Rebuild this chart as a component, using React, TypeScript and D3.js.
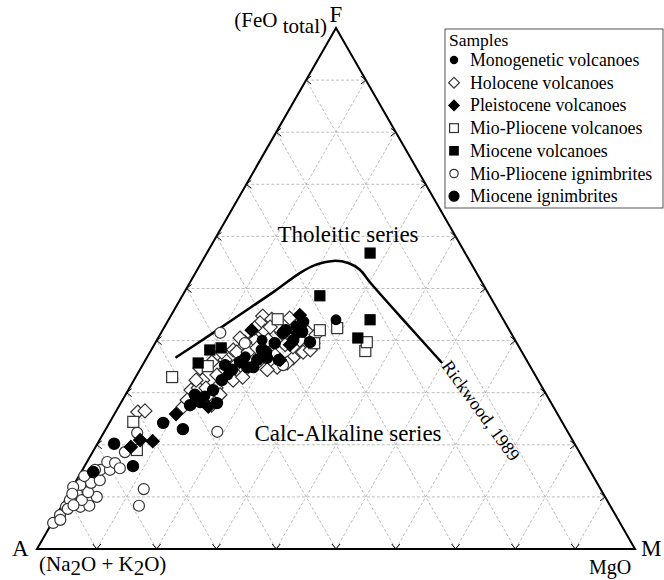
import React from 'react';
import * as d3 from 'd3';

// Ternary AFM data: each point is [F (FeO total), M (MgO)] in %, A = 100 - F - M
const monogenetic: [number, number][] = [
  [44.0, 28.0], [40.1, 17.6], [33.4, 15.2], [36.9, 16.4], [29.4, 13.4], [42.8, 21.9],
];
const holocene: [number, number][] = [
  [26.3, 3.7], [26.5, 4.8], [27.3, 10.8], [30.5, 10.5], [29.2, 11.5], [32.4, 11.5], [27.6, 15.4],
  [29.2, 13.8], [33.4, 13.4], [34.4, 14.3], [36.9, 13.8], [38.2, 13.7], [38.2, 14.9], [39.5, 15.9],
  [36.9, 15.9], [34.4, 17.6], [37.8, 14.5], [32.4, 16.6], [33.0, 17.9], [44.7, 15.4], [44.1, 17.2],
  [43.4, 15.6], [41.8, 17.2], [41.5, 20.2], [44.3, 20.1], [41.7, 24.3], [39.5, 26.4], [36.7, 24.5],
  [34.9, 22.7], [38.8, 23.4], [37.8, 25.6], [35.7, 24.0], [34.4, 21.3], [40.1, 16.4], [39.7, 14.9],
  [37.8, 16.4], [36.3, 13.3], [30.9, 14.5], [30.9, 11.5], [28.6, 10.8], [35.9, 19.0], [43.0, 22.1],
  [42.8, 18.6], [38.6, 17.5], [29.6, 15.8], [34.7, 9.9], [35.9, 11.3], [37.8, 12.0], [42.4, 15.2],
  [40.1, 18.6], [39.2, 21.9], [40.1, 23.9], [37.2, 21.2], [32.4, 10.4], [30.9, 12.8], [40.5, 13.7],
  [42.6, 17.7], [41.1, 26.1], [38.2, 26.6],
];
const pleistocene: [number, number][] = [
  [19.6, 5.9], [20.9, 6.8], [20.7, 9.0], [25.9, 10.3], [42.0, 14.9], [44.9, 21.5], [41.5, 22.8],
  [36.3, 22.5], [27.3, 15.0], [39.2, 22.7],
];
const mioPlioVolc: [number, number][] = [
  [33.0, 6.1], [24.4, 3.9], [19.0, 7.2], [42.0, 26.3], [42.4, 29.0], [39.5, 26.6], [38.0, 35.9],
  [39.7, 35.3], [44.1, 18.2], [35.1, 11.0],
];
const mioceneVolc: [number, number][] = [
  [56.8, 27.3], [48.6, 23.0], [44.0, 33.7], [40.5, 33.4], [38.2, 9.8], [38.6, 11.5], [35.7, 9.1],
];
const mioPlioIgn: [number, number][] = [
  [5.0, 0.2], [6.5, 0.6], [8.1, 0.8], [9.4, 0.8], [8.1, 3.2], [8.3, 4.6], [10.7, 1.3], [9.4, 2.8],
  [10.0, 5.0], [10.9, 3.1], [12.3, 1.1], [12.7, 2.7], [13.2, 3.9], [14.0, 0.9], [15.2, 3.0],
  [15.2, 4.6], [16.7, 3.4], [16.5, 4.8], [15.5, 6.1], [18.6, 5.4], [22.3, 5.6], [11.5, 12.1],
  [8.3, 12.9], [22.5, 18.9], [41.5, 9.9], [35.3, 23.5], [11.9, 0.1], [7.7, 1.3], [5.6, 1.1],
  [15.2, 2.1], [39.5, 15.0], [10.6, 0.6], [8.4, 1.9],
];
const mioceneIgn: [number, number][] = [
  [20.2, 2.8], [15.9, 8.1], [24.2, 9.0], [23.0, 12.9], [14.8, 2.0], [28.2, 13.2], [30.5, 14.2],
  [32.4, 14.7], [34.4, 15.4], [34.9, 17.7], [36.3, 18.7], [36.7, 20.1], [39.5, 20.0], [40.1, 22.8],
  [41.7, 23.5], [28.0, 16.1], [35.9, 16.0], [34.9, 18.7], [36.3, 22.3], [39.7, 25.8], [37.8, 19.4],
  [27.6, 11.8], [42.0, 20.6], [35.3, 13.8], [41.5, 20.4], [38.2, 18.5], [43.6, 22.7], [29.6, 11.6],
];
// Rickwood (1989) tholeiitic / calc-alkaline boundary, [F, M]
const rickwood: [number, number][] = [
  [36.7, 4.8], [41.1, 8.4], [46.3, 12.5], [49.5, 15.0], [53.0, 17.5], [54.5, 19.2], [55.3, 21.9],
  [54.9, 24.6], [53.6, 27.2], [51.1, 30.2], [43.4, 40.0], [35.7, 49.9],
];
const legendLabels = [
  'Monogenetic volcanoes', 'Holocene volcanoes', 'Pleistocene volcanoes', 'Mio-Pliocene volcanoes',
  'Miocene volcanoes', 'Mio-Pliocene ignimbrites', 'Miocene ignimbrites',
];
const gridSteps = [10, 20, 30, 40, 50, 60, 70, 80, 90];

type Shape = 'circle' | 'diamond' | 'square';
const seriesData = [monogenetic, holocene, pleistocene, mioPlioVolc, mioceneVolc, mioPlioIgn, mioceneIgn];
const seriesStyle: { shape: Shape; filled: boolean; size: number; lsize: number }[] = [
  { shape: 'circle', filled: true, size: 4.8, lsize: 3.6 },
  { shape: 'diamond', filled: false, size: 7, lsize: 5.4 },
  { shape: 'diamond', filled: true, size: 6.5, lsize: 5.2 },
  { shape: 'square', filled: false, size: 5.5, lsize: 4.4 },
  { shape: 'square', filled: true, size: 5, lsize: 4.2 },
  { shape: 'circle', filled: false, size: 5.5, lsize: 4.2 },
  { shape: 'circle', filled: true, size: 5.6, lsize: 5 },
];
const drawOrder = [1, 3, 5, 2, 4, 6, 0];

const FONT = '"Liberation Serif", "Times New Roman", serif';

const xs = d3.scaleLinear().domain([0, 100]).range([37, 635]);
const ys = d3.scaleLinear().domain([0, 100]).range([549, 28]);
const proj = (f: number, m: number): [number, number] => [xs(m + f / 2), ys(f)];

function Marker({ x, y, shape, filled, size }: { x: number; y: number; shape: Shape; filled: boolean; size: number }) {
  const fill = filled ? '#000' : '#fff';
  const stroke = filled ? '#000' : '#333';
  const sw = 1.2;
  if (shape === 'circle') return <circle cx={x} cy={y} r={size} fill={fill} stroke={stroke} strokeWidth={sw} />;
  if (shape === 'square')
    return <rect x={x - size} y={y - size} width={size * 2} height={size * 2} fill={fill} stroke={stroke} strokeWidth={sw} />;
  return (
    <path
      d={`M${x},${y - size}L${x + size},${y}L${x},${y + size}L${x - size},${y}Z`}
      fill={fill}
      stroke={stroke}
      strokeWidth={sw}
    />
  );
}

export default function App() {
  const pA = proj(0, 0);
  const pM = proj(0, 100);
  const pF = proj(100, 0);
  const line = d3
    .line<[number, number]>()
    .x((d) => proj(d[0], d[1])[0])
    .y((d) => proj(d[0], d[1])[1])
    .curve(d3.curveCatmullRom.alpha(0.5));

  const grid: JSX.Element[] = [];
  const chevrons: JSX.Element[] = [];
  gridSteps.forEach((t) => {
    const h1 = proj(t, 0), h2 = proj(t, 100 - t);
    const m1 = proj(0, t), m2 = proj(100 - t, t);
    const a1 = proj(0, 100 - t), a2 = proj(100 - t, 0);
    [[h1, h2], [m1, m2], [a1, a2]].forEach(([p, q], i) => {
      grid.push(
        <line key={`g${t}-${i}`} x1={p[0]} y1={p[1]} x2={q[0]} y2={q[1]} stroke="#a0a0a0" strokeWidth={0.7} strokeDasharray="3,2" />
      );
    });
    chevrons.push(
      <path key={`cl${t}`} d={`M${h1[0] + 5},${h1[1] - 4}L${h1[0]},${h1[1]}L${h1[0] + 5},${h1[1] + 4}`} />,
      <path key={`cr${t}`} d={`M${h2[0] - 5},${h2[1] - 4}L${h2[0]},${h2[1]}L${h2[0] - 5},${h2[1] + 4}`} />,
      <path key={`cb${t}`} d={`M${m1[0] - 4},${m1[1] - 5}L${m1[0]},${m1[1]}L${m1[0] + 4},${m1[1] - 5}`} />
    );
  });

  return (
    <svg width={664} height={580} style={{ position: 'absolute', left: 0, top: 0, background: '#fff' }} fontFamily={FONT}>
      <rect x={0} y={0} width={664} height={580} fill="#fff" />
      <g>{grid}</g>
      <g fill="none" stroke="#000" strokeWidth={1}>{chevrons}</g>
      <path d={`M${pA[0]},${pA[1]}L${pM[0]},${pM[1]}L${pF[0]},${pF[1]}Z`} fill="none" stroke="#000" strokeWidth={2} strokeLinejoin="miter" />
      <path d={line(rickwood) || ''} fill="none" stroke="#000" strokeWidth={2.5} />
      <text x={441} y={366} fontSize={18} transform="rotate(54 441 366)">Rickwood, 1989</text>
      <text x={348} y={242} fontSize={23} textAnchor="middle">Tholeitic series</text>
      <text x={348} y={441} fontSize={23} textAnchor="middle">Calc-Alkaline series</text>
      {drawOrder.map((si) =>
        seriesData[si].map((d, i) => {
          const [x, y] = proj(d[0], d[1]);
          const st = seriesStyle[si];
          return <Marker key={`m${si}-${i}`} x={x} y={y} shape={st.shape} filled={st.filled} size={st.size} />;
        })
      )}
      <text x={pF[0]} y={22} fontSize={23} textAnchor="middle">F</text>
      <text x={327} y={27} fontSize={21} textAnchor="end">
        (FeO <tspan dy={6}>total)</tspan>
      </text>
      <text x={12} y={556} fontSize={23}>A</text>
      <text x={641} y={556} fontSize={23}>M</text>
      <text x={39} y={571} fontSize={21}>
        (Na<tspan dy={4}>2</tspan><tspan dy={-4}>O + K</tspan><tspan dy={4}>2</tspan><tspan dy={-4}>O)</tspan>
      </text>
      <text x={589} y={574} fontSize={20}>MgO</text>
      <g>
        <rect x={445} y={29} width={218} height={179} fill="#fff" stroke="#555" strokeWidth={1} />
        <text x={449} y={46} fontSize={17.5}>Samples</text>
        {legendLabels.map((lab, i) => {
          const yb = 66 + i * 22.7;
          const st = seriesStyle[i];
          return (
            <g key={lab}>
              <Marker x={454} y={yb - 6} shape={st.shape} filled={st.filled} size={st.lsize} />
              <text x={470} y={yb} fontSize={17.8}>{lab}</text>
            </g>
          );
        })}
      </g>
    </svg>
  );
}
